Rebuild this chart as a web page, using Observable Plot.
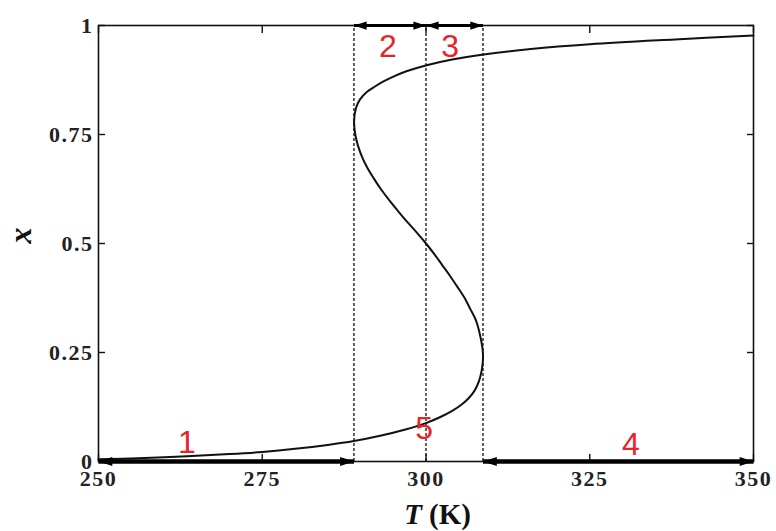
<!DOCTYPE html>
<html><head><meta charset="utf-8">
<script src="https://cdn.jsdelivr.net/npm/d3@7"></script>
<script src="https://cdn.jsdelivr.net/npm/@observablehq/plot@0.6"></script>
<style>
body{margin:0;background:#fff}
#chart svg{display:block}
g[aria-label="x-axis tick label"] text, g[aria-label="y-axis tick label"] text{letter-spacing:1.5px}
</style>
</head><body><div id="chart"></div>
<script>
// S-curve: temperature T (K) and fraction x, in drawing order
const curveT = [250.0, 256.0, 263.5, 270.0, 275.0, 280.0, 285.0, 289.0, 293.0, 297.0, 300.0, 302.2, 304.0, 305.4, 306.5, 307.4, 308.06, 308.45, 308.65, 308.7, 308.6, 308.1, 307.6, 306.75, 305.9, 304.82, 303.7, 302.5, 301.3, 300.0, 298.6, 297.1, 295.7, 294.35, 293.1, 292.0, 291.0, 290.2, 289.6, 289.2, 289.02, 289.3, 289.9, 291.0, 292.0, 293.3, 294.6, 297.0, 300.1, 304.0, 308.5, 316.0, 325.0, 338.0, 350.0];
const curveX = [0.005, 0.0075, 0.012, 0.017, 0.022, 0.029, 0.038, 0.047, 0.059, 0.074, 0.088, 0.102, 0.116, 0.130, 0.145, 0.162, 0.183, 0.205, 0.225, 0.243, 0.262, 0.300, 0.325, 0.350, 0.375, 0.400, 0.425, 0.450, 0.475, 0.500, 0.525, 0.550, 0.575, 0.600, 0.625, 0.650, 0.675, 0.700, 0.725, 0.750, 0.780, 0.810, 0.830, 0.848, 0.858, 0.870, 0.880, 0.895, 0.909, 0.922, 0.933, 0.946, 0.957, 0.968, 0.977];

const xTicks = [250, 275, 300, 325, 350];
const yTicks = [0, 0.25, 0.5, 0.75, 1];
const yTickLabels = ["0", "0.25", "0.5", "0.75", "1"];

const boundaries = [289, 300, 308.7];

// double-headed arrows along the frame
const arrowFrom = [289, 300, 250, 308.7];
const arrowTo = [300, 308.7, 289, 350];
const arrowLevel = [1, 1, 0, 0];

const regionLabels = ["1", "2", "3", "4", "5"];
const labelT = [263.5, 294.2, 303.7, 331.3, 299.7];
const labelX = [0.044, 0.951, 0.951, 0.039, 0.075];

const curve = curveT.map((t, i) => ({t, x: curveX[i]}));
const arrows = arrowFrom.map((a, i) => ({a, b: arrowTo[i], y: arrowLevel[i]}));
const topArrows = arrows.filter(d => d.y === 1);
const bottomArrows = arrows.filter(d => d.y === 0);
const labels = regionLabels.map((s, i) => ({s, t: labelT[i], x: labelX[i]}));

const headRight = {draw(ctx, size) {const s = Math.sqrt(size / Math.PI); ctx.moveTo(0, 0); ctx.lineTo(-2.3 * s, -0.75 * s); ctx.lineTo(-2.3 * s, 0.75 * s); ctx.closePath();}};
const headLeft = {draw(ctx, size) {const s = Math.sqrt(size / Math.PI); ctx.moveTo(0, 0); ctx.lineTo(2.3 * s, -0.75 * s); ctx.lineTo(2.3 * s, 0.75 * s); ctx.closePath();}};

const serif = "'Liberation Serif', 'Times New Roman', serif";
const tickFont = {fontFamily: serif, fontSize: 22, fontWeight: "bold", fill: "#222"};

const chart = Plot.plot({
  width: 776,
  height: 531,
  marginLeft: 98,
  marginRight: 23,
  marginTop: 25,
  marginBottom: 70,
  style: {fontFamily: serif, background: "#fff", color: "#111"},
  x: {domain: [250, 350]},
  y: {domain: [0, 1]},
  marks: [
    Plot.ruleX(boundaries, {x: d => d, y1: 0, y2: 1, stroke: "#111", strokeWidth: 1.3, strokeDasharray: "3,2"}),
    Plot.line(curve, {x: "t", y: "x", curve: "catmull-rom", stroke: "#111", strokeWidth: 2}),
    Plot.frame({stroke: "#111", strokeWidth: 1.6}),
    // inward ticks
    Plot.axisX(xTicks, {anchor: "bottom", tickSize: -7, tickFormat: () => "", label: null, strokeWidth: 1.4}),
    Plot.axisX(xTicks, {anchor: "top", tickSize: -7, tickFormat: () => "", label: null, strokeWidth: 1.4}),
    Plot.axisY(yTicks, {anchor: "left", tickSize: -7, tickFormat: () => "", label: null, strokeWidth: 1.4}),
    Plot.axisY(yTicks, {anchor: "right", tickSize: -7, tickFormat: () => "", label: null, strokeWidth: 1.4}),
    // tick labels
    Plot.axisX(xTicks, {anchor: "bottom", tickSize: 0, tickPadding: 9, label: null, tickFormat: d => String(d), ...tickFont}),
    Plot.axisY(yTicks, {anchor: "left", tickSize: 0, tickPadding: 5, label: null, tickFormat: (d, i) => yTickLabels[i], ...tickFont}),
    // arrows
    Plot.link(topArrows, {x1: "a", x2: "b", y1: "y", y2: "y", stroke: "#000", strokeWidth: 3}),
    Plot.link(bottomArrows, {x1: "a", x2: "b", y1: "y", y2: "y", stroke: "#000", strokeWidth: 4.5}),
    Plot.dot(topArrows, {x: "a", y: "y", symbol: headLeft, r: 5.5, fill: "#000", stroke: "none"}),
    Plot.dot(topArrows, {x: "b", y: "y", symbol: headRight, r: 5.5, fill: "#000", stroke: "none"}),
    Plot.dot(bottomArrows, {x: "a", y: "y", symbol: headLeft, r: 6, fill: "#000", stroke: "none"}),
    Plot.dot(bottomArrows, {x: "b", y: "y", symbol: headRight, r: 6, fill: "#000", stroke: "none"}),
    // region labels
    Plot.text(labels, {x: "t", y: "x", text: "s", fill: "#e8232a", fontSize: 32, fontFamily: "'Liberation Sans', Arial, sans-serif", lineAnchor: "middle"}),
    // axis titles
    Plot.text(["x"], {frameAnchor: "left", dx: -78, rotate: -90, text: d => d, fontSize: 32, fontStyle: "italic", fontWeight: "bold", fontFamily: serif, fill: "#111"}),
    Plot.text(["T"], {frameAnchor: "bottom", dx: -4, dy: 62, text: d => d, textAnchor: "end", lineAnchor: "bottom", fontSize: 29, fontStyle: "italic", fontWeight: "bold", fontFamily: serif, fill: "#111"}),
    Plot.text(["(K)"], {frameAnchor: "bottom", dx: 3, dy: 62, text: d => d, textAnchor: "start", lineAnchor: "bottom", fontSize: 29, fontWeight: "bold", fontFamily: serif, fill: "#111"})
  ]
});
document.getElementById("chart").appendChild(chart);
</script>
</body></html>
